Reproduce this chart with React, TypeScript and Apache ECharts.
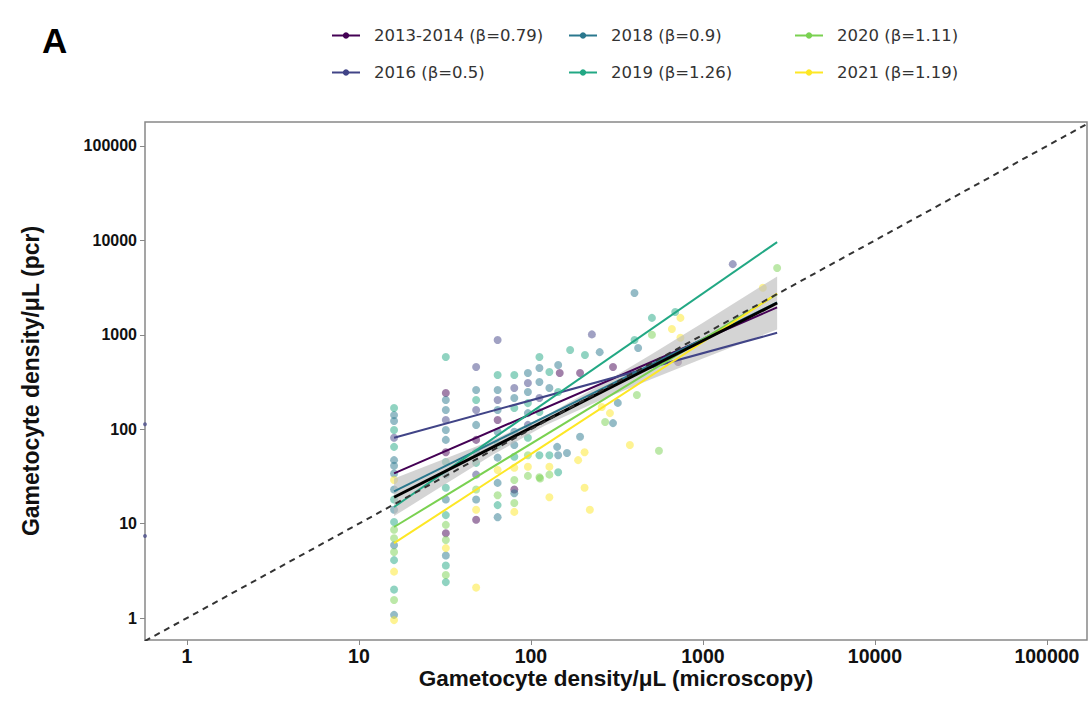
import React, { useEffect, useRef } from "react";
import * as echarts from "echarts";

const seriesNames = [
  "2013-2014 (β=0.79)",
  "2016 (β=0.5)",
  "2018 (β=0.9)",
  "2019 (β=1.26)",
  "2020 (β=1.11)",
  "2021 (β=1.19)",
];
const seriesColors = ["#440154", "#414487", "#2a788e", "#22a884", "#7ad151", "#fde725"];

// [microscopy density, pcr density]
const points2013 = [
  [32, 242], [32, 57], [32, 7.9], [48, 77], [48, 11], [64, 125], [80, 23],
  [147, 394], [193, 394], [300, 455], [716, 515],
];
const points2016 = [
  [16, 81], [32, 125], [48, 455], [48, 160], [48, 33], [64, 880], [64, 204],
  [80, 273], [96, 309], [96, 111], [112, 214], [226, 1010], [1490, 5600],
];
const edgePoints2016 = [[0.57, 113], [0.57, 7.4]];
const points2018 = [
  [16, 141], [16, 122], [16, 47], [16, 41], [16, 34], [16, 23], [16, 14], [16, 5.9], [16, 1.08],
  [32, 204], [32, 160], [32, 98], [32, 77], [32, 33], [32, 18], [32, 4.6],
  [48, 260], [48, 111], [48, 57], [48, 18],
  [64, 260], [64, 160], [64, 94], [64, 50], [64, 27], [64, 11.7],
  [80, 214], [80, 94], [80, 68], [80, 21],
  [96, 394], [96, 248], [96, 148],
  [112, 445], [112, 316], [128, 273], [144, 479], [144, 53], [162, 56],
  [400, 2770], [420, 725], [320, 190], [300, 116], [251, 655], [142, 65], [193, 83],
];
const points2019 = [
  [16, 168], [16, 98], [16, 65], [16, 18], [16, 10.4], [16, 4.1], [16, 2],
  [32, 582], [32, 45], [32, 24], [32, 12.3], [32, 3.6], [32, 2.4],
  [48, 204], [48, 44], [64, 375], [64, 68], [64, 15.7],
  [80, 375], [80, 168], [80, 51], [96, 189], [96, 81],
  [112, 582], [112, 152], [112, 53], [128, 404], [128, 53], [144, 248], [144, 35],
  [169, 690], [206, 611], [690, 1740], [505, 1510], [400, 880],
];
const points2020 = [
  [16, 8.6], [16, 7], [16, 5], [16, 1.55],
  [32, 9.7], [32, 6.7], [32, 2.85],
  [48, 23], [64, 20], [80, 29], [80, 16.5], [96, 53], [96, 32], [112, 31], [128, 33], [113, 30],
  [2700, 5100], [505, 1000], [413, 230], [270, 119], [555, 59],
];
const points2021 = [
  [16, 29], [16, 3.1], [16, 0.95], [32, 5.5], [48, 14], [48, 2.1], [64, 37],
  [80, 39], [80, 13.3], [96, 40], [128, 40], [128, 19],
  [188, 47], [205, 57], [205, 24], [220, 14],
  [2230, 3150], [740, 1510], [660, 1150], [740, 930], [288, 148], [376, 68], [258, 172],
];
const pointSets = [points2013, points2016, points2018, points2019, points2020, points2021];

// per-year regression lines: start and end
const fitLines = [
  [[16, 34], [2700, 1950]],
  [[16, 81], [2700, 1050]],
  [[16, 22], [2700, 2200]],
  [[16, 15], [2700, 9600]],
  [[16, 9.2], [2700, 2700]],
  [[16, 6.2], [2700, 2730]],
];
const overallFit = [[16, 19], [2700, 2170]];

// confidence band of overall fit
const bandX = [16, 30, 60, 120, 250, 500, 1000, 2700];
const bandLower = [12, 24.5, 53.5, 109, 200, 339, 561, 1140];
const bandUpper = [30, 47, 77, 137, 290, 617, 1345, 4150];

const identityLine = [[0.5, 0.5], [200000, 200000]];
const tickValues = [1, 10, 100, 1000, 10000, 100000];

const lg = (v: number) => Math.log10(v);
const toLog = (arr: number[][]) => arr.map(([x, y]) => [lg(x), lg(y)]);

const FONT = "'Liberation Sans', Arial, Helvetica, sans-serif";
const LEGEND_FONT = "'DejaVu Sans', 'Liberation Sans', sans-serif";

export default function App() {
  const ref = useRef<HTMLDivElement>(null);
  useEffect(() => {
    if (!ref.current) return;
    const chart = echarts.init(ref.current, undefined, { renderer: "svg" });
    const tickLogs = tickValues.map(lg);

    const legendBase = {
      orient: "vertical" as const,
      top: 22,
      itemGap: 20,
      itemWidth: 28,
      itemHeight: 8,
      textStyle: { fontSize: 16.5, color: "#333", fontFamily: LEGEND_FONT, padding: [0, 0, 0, 9] },
    };

    const series: any[] = [];
    seriesNames.forEach((name, i) => {
      series.push({
        type: "line",
        name,
        data: toLog(fitLines[i]),
        symbol: "circle",
        symbolSize: 6,
        showSymbol: false,
        lineStyle: { color: seriesColors[i], width: 2 },
        itemStyle: { color: seriesColors[i] },
        z: 5,
        silent: true,
      });
    });
    seriesNames.forEach((name, i) => {
      series.push({
        type: "scatter",
        name,
        data: toLog(pointSets[i]),
        symbolSize: 8,
        itemStyle: { color: seriesColors[i], opacity: 0.5 },
        z: 2,
        clip: true,
      });
    });
    series.push({
      type: "scatter",
      name: "edge2016",
      data: toLog(edgePoints2016),
      symbolSize: 4,
      itemStyle: { color: seriesColors[1], opacity: 0.7 },
      z: 2,
      silent: true,
    });
    series.push({
      type: "custom",
      name: "band",
      data: [[0, 0]],
      clip: true,
      silent: true,
      z: 3,
      renderItem: (_params: any, api: any) => {
        const up = bandX.map((x, i) => api.coord([lg(x), lg(bandUpper[i])]));
        const lo = bandX.map((x, i) => api.coord([lg(x), lg(bandLower[i])])).reverse();
        return {
          type: "polygon",
          shape: { points: up.concat(lo) },
          style: { fill: "#bdbdbd", opacity: 0.65 },
        };
      },
    });
    series.push({
      type: "line",
      name: "overall",
      data: toLog(overallFit),
      showSymbol: false,
      symbol: "none",
      lineStyle: { color: "#000", width: 3 },
      z: 6,
      silent: true,
    });
    series.push({
      type: "line",
      name: "identity",
      data: toLog(identityLine),
      showSymbol: false,
      symbol: "none",
      lineStyle: { color: "#333", width: 2, type: [6, 5] },
      z: 7,
      silent: true,
    });

    chart.setOption({
      animation: false,
      backgroundColor: "#fff",
      title: {
        text: "A",
        left: 37,
        top: 18,
        textStyle: { fontSize: 35, fontWeight: "bold", color: "#000", fontFamily: FONT },
      },
      legend: [
        { ...legendBase, left: 326, data: [seriesNames[0], seriesNames[1]] },
        { ...legendBase, left: 563, data: [seriesNames[2], seriesNames[3]] },
        { ...legendBase, left: 789, data: [seriesNames[4], seriesNames[5]] },
      ],
      grid: {
        left: 145,
        right: 4,
        top: 122,
        bottom: 78,
        show: true,
        borderColor: "#888",
        borderWidth: 1.5,
        containLabel: false,
      },
      xAxis: {
        type: "value",
        min: -0.244,
        max: 5.233,
        name: "Gametocyte density/μL (microscopy)",
        nameLocation: "middle",
        nameGap: 27,
        nameMoveOverlap: false,
        nameTextStyle: {
          fontSize: 22.5,
          fontWeight: "bold",
          color: "#111",
          fontFamily: FONT,
        },
        axisLine: { show: false, onZero: false },
        splitLine: { show: false },
        axisTick: { show: true, length: 5, lineStyle: { color: "#888" }, customValues: tickLogs },
        axisLabel: {
          customValues: tickLogs,
          margin: 6,
          fontSize: 19.5,
          fontWeight: "bold",
          color: "#111",
          fontFamily: FONT,
          formatter: (v: number) => String(Math.round(Math.pow(10, v))),
        },
      },
      yAxis: {
        type: "value",
        min: -0.233,
        max: 5.254,
        name: "Gametocyte density/μL (pcr)",
        nameLocation: "middle",
        nameGap: 103,
        nameRotate: 90,
        nameMoveOverlap: false,
        nameTextStyle: { fontSize: 23, fontWeight: "bold", color: "#111", fontFamily: FONT },
        axisLine: { show: false, onZero: false },
        splitLine: { show: false },
        axisTick: { show: true, length: 5, lineStyle: { color: "#888" }, customValues: tickLogs },
        axisLabel: {
          customValues: tickLogs,
          margin: 8,
          fontSize: 16,
          fontWeight: "bold",
          color: "#111",
          fontFamily: FONT,
          formatter: (v: number) => String(Math.round(Math.pow(10, v))),
        },
      },
      series,
    });
    return () => chart.dispose();
  }, []);
  return (
    <div
      ref={ref}
      style={{ position: "fixed", left: 0, top: 0, width: 1091, height: 718, background: "#fff" }}
    />
  );
}
